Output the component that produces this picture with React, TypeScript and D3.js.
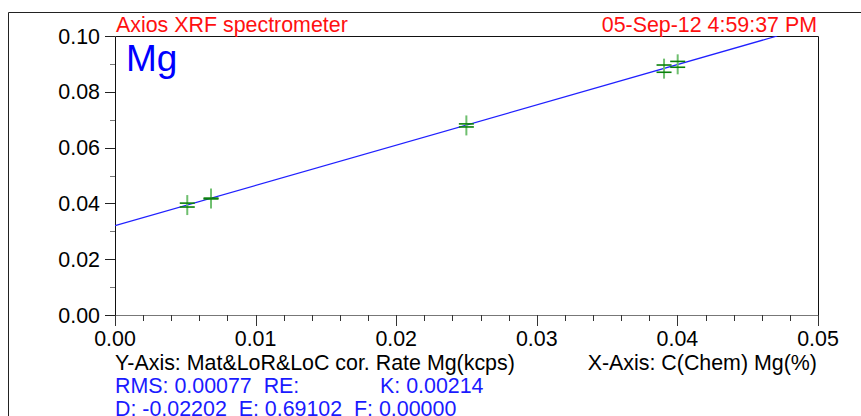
import React, { useEffect, useRef } from 'react';
import * as d3 from 'd3';

// calibration standards: concentration (x) and the two rate values (y)
const concentrations = [0.00514, 0.00683, 0.02499, 0.03905, 0.04002];
const ratesUpper = [0.0401, 0.0419, 0.0685, 0.0896, 0.0909];
const ratesLower = [0.0387, 0.0416, 0.0674, 0.087, 0.0888];

// calibration line end points
const lineX = [0, 0.0471];
const lineY = [0.032, 0.1];

const yTicks = [0, 0.02, 0.04, 0.06, 0.08, 0.1];
const xTicks = [0, 0.01, 0.02, 0.03, 0.04, 0.05];

const FONT = '"Liberation Sans", Arial, sans-serif';

function App() {
    const chartRef = useRef<SVGSVGElement>(null);

    useEffect(() => {
        drawChart();
    }, []);

    const drawChart = () => {
        const svg = d3.select(chartRef.current);
        svg.selectAll('*').remove();

        const left = 115, right = 818, top = 36, bottom = 315;

        const x = d3.scaleLinear().domain([0, 0.05]).range([left, right]);
        const y = d3.scaleLinear().domain([0, 0.1]).range([bottom, top]);

        // outer frame
        svg.append('path')
            .attr('d', 'M8.5,416 V12.5 H861')
            .attr('fill', 'none')
            .attr('stroke', '#222');

        // plot border
        svg.append('path')
            .attr('d', `M${left + 0.5},${bottom} V${top + 0.5} H${right + 0.5} V${bottom}`)
            .attr('fill', 'none')
            .attr('stroke', '#111');
        svg.append('line')
            .attr('x1', left - 10).attr('x2', right + 0.5)
            .attr('y1', bottom + 0.5).attr('y2', bottom + 0.5)
            .attr('stroke', '#777');

        // y ticks
        const yMinor = d3.range(0, 0.1001, 0.01);
        svg.append('g').selectAll('line')
            .data(yMinor)
            .enter().append('line')
            .attr('x1', (d, i) => (i % 2 === 0 ? left - 10 : left - 5))
            .attr('x2', left)
            .attr('y1', d => Math.round(y(d)) + 0.5)
            .attr('y2', d => Math.round(y(d)) + 0.5)
            .attr('stroke', (d, i) => (i % 2 === 0 ? '#222' : '#777'));

        svg.append('g').selectAll('text')
            .data(yTicks)
            .enter().append('text')
            .attr('x', left - 15)
            .attr('y', d => y(d) + 7.5)
            .attr('text-anchor', 'end')
            .attr('font-family', FONT)
            .attr('font-size', 21.4)
            .attr('fill', '#000')
            .text(d => d.toFixed(2));

        // x ticks
        const xMinor = d3.range(0, 0.05001, 0.002);
        svg.append('g').selectAll('line')
            .data(xMinor)
            .enter().append('line')
            .attr('x1', d => Math.round(x(d)) + 0.5)
            .attr('x2', d => Math.round(x(d)) + 0.5)
            .attr('y1', bottom)
            .attr('y2', (d, i) => (i % 5 === 0 ? bottom + 11 : bottom + 6))
            .attr('stroke', '#333');

        svg.append('g').selectAll('text')
            .data(xTicks)
            .enter().append('text')
            .attr('x', d => x(d))
            .attr('y', 345.5)
            .attr('text-anchor', 'middle')
            .attr('font-family', FONT)
            .attr('font-size', 21.4)
            .attr('fill', '#000')
            .text(d => d.toFixed(2));

        // calibration line
        const clip = svg.append('clipPath').attr('id', 'plotclip');
        clip.append('rect')
            .attr('x', left).attr('y', top)
            .attr('width', right - left).attr('height', bottom - top);

        const lineGen = d3.line<number>()
            .x((d, i) => x(lineX[i]))
            .y(d => y(d));
        svg.append('path')
            .datum(lineY)
            .attr('d', lineGen)
            .attr('fill', 'none')
            .attr('stroke', '#2020ff')
            .attr('stroke-width', 1.3)
            .attr('clip-path', 'url(#plotclip)');

        // standards
        const marks = svg.append('g');
        marks.selectAll('.vbar')
            .data(concentrations)
            .enter().append('line')
            .attr('x1', d => x(d)).attr('x2', d => x(d))
            .attr('y1', (d, i) => (y(ratesUpper[i]) + y(ratesLower[i])) / 2 - 10)
            .attr('y2', (d, i) => (y(ratesUpper[i]) + y(ratesLower[i])) / 2 + 10)
            .attr('stroke', '#6fbf6f')
            .attr('stroke-width', 2);
        marks.selectAll('.hup')
            .data(concentrations)
            .enter().append('line')
            .attr('x1', d => x(d) - 7.5).attr('x2', d => x(d) + 7.5)
            .attr('y1', (d, i) => y(ratesUpper[i]))
            .attr('y2', (d, i) => y(ratesUpper[i]))
            .attr('stroke', '#0a800a')
            .attr('stroke-width', 1.6);
        marks.selectAll('.hlow')
            .data(concentrations)
            .enter().append('line')
            .attr('x1', d => x(d) - 7.5).attr('x2', d => x(d) + 7.5)
            .attr('y1', (d, i) => y(ratesLower[i]))
            .attr('y2', (d, i) => y(ratesLower[i]))
            .attr('stroke', '#0a800a')
            .attr('stroke-width', 1.6);

        // texts
        const addText = (tx: number, ty: number, s: string, color: string, size: number, anchor = 'start') => {
            svg.append('text')
                .attr('x', tx).attr('y', ty)
                .attr('text-anchor', anchor)
                .attr('font-family', FONT)
                .attr('font-size', size)
                .attr('fill', color)
                .style('white-space', 'pre')
                .text(s);
        };

        addText(116, 32, 'Axios XRF spectrometer', '#ff1010', 21.4);
        addText(817, 32, '05-Sep-12 4:59:37 PM', '#ff1010', 21.4, 'end');
        addText(126, 71, 'Mg', '#0000ff', 37);
        addText(115, 370, 'Y-Axis: Mat&LoR&LoC cor. Rate Mg(kcps)', '#000', 21.4);
        addText(817, 370, 'X-Axis: C(Chem) Mg(%)', '#000', 21.4, 'end');
        addText(115, 393, 'RMS: 0.00077  RE:', '#1a1aff', 21.4);
        addText(380, 393, 'K: 0.00214', '#1a1aff', 21.4);
        addText(115, 416, 'D: -0.02202  E: 0.69102  F: 0.00000', '#1a1aff', 21.4);
    };

    return (
        <svg
            ref={chartRef}
            width={861}
            height={416}
            style={{ position: 'absolute', left: 0, top: 0, background: '#fff' }}
        ></svg>
    );
}

export default App;
